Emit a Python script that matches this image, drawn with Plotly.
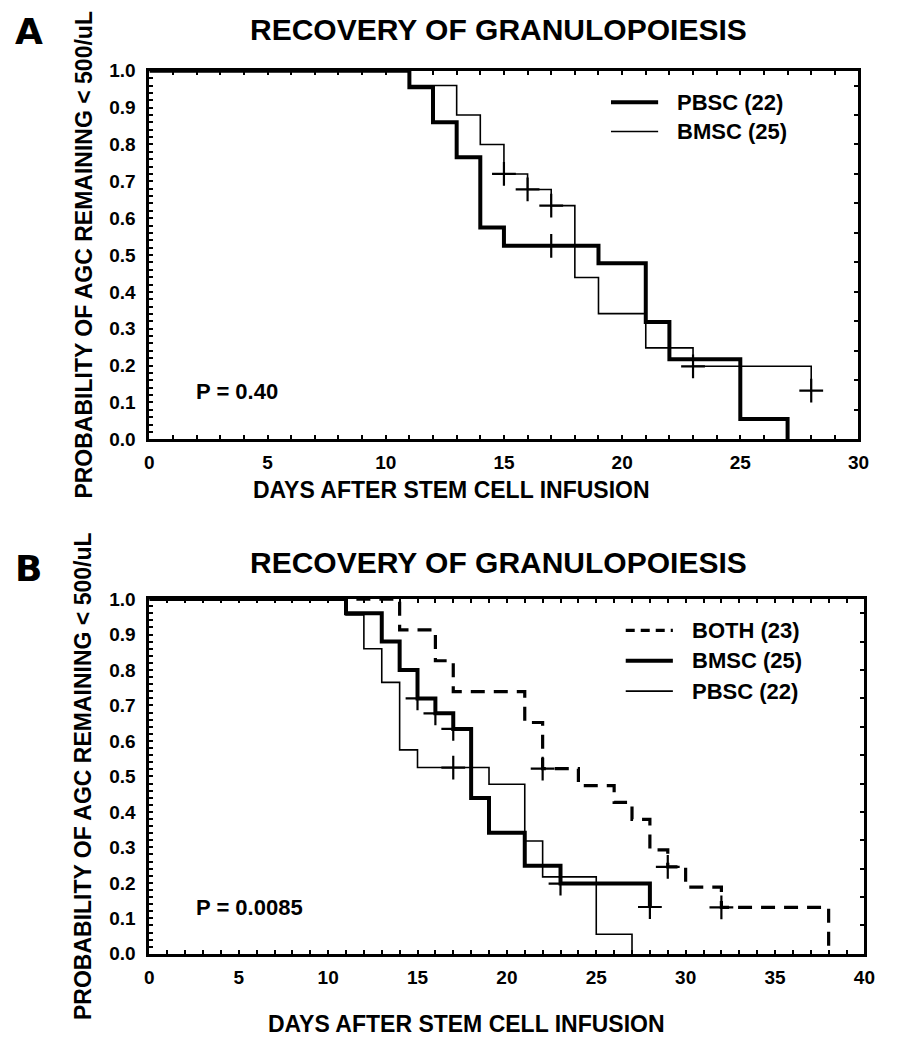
import plotly.graph_objects as go

W, H = 897, 1055

# ---- Panel A: PBSC vs BMSC ----
a_pbsc_days = [0, 11, 12, 13, 14, 15, 19, 21, 22, 25, 27]
a_pbsc_surv = [1.0, 0.955, 0.86, 0.765, 0.575, 0.525, 0.478, 0.318, 0.217, 0.055, 0.0]
a_pbsc_cens_days = [17]
a_pbsc_cens_surv = [0.525]

a_bmsc_days = [0, 11, 13, 14, 15, 16, 17, 18, 19, 21, 23, 28]
a_bmsc_surv = [1.0, 0.96, 0.88, 0.80, 0.72, 0.678, 0.634, 0.439, 0.341, 0.248, 0.198, 0.132]
a_bmsc_cens_days = [15, 16, 17, 23, 28]
a_bmsc_cens_surv = [0.72, 0.678, 0.634, 0.198, 0.132]

# ---- Panel B: BOTH vs BMSC vs PBSC ----
b_both_days = [0, 14, 16, 17, 21, 22, 24, 26, 27, 28, 29, 30, 32, 38]
b_both_surv = [1.0, 0.913, 0.826, 0.739, 0.652, 0.522, 0.474, 0.427, 0.379, 0.293, 0.245, 0.188, 0.131, 0.0]
b_both_cens_days = [22, 29, 32]
b_both_cens_surv = [0.522, 0.245, 0.131]

b_bmsc_days = a_bmsc_days
b_bmsc_surv = a_bmsc_surv
b_bmsc_cens_days = a_bmsc_cens_days
b_bmsc_cens_surv = a_bmsc_cens_surv

b_pbsc_days = a_pbsc_days
b_pbsc_surv = a_pbsc_surv
b_pbsc_cens_days = a_pbsc_cens_days
b_pbsc_cens_surv = a_pbsc_cens_surv

y_ticks = [0.0, 0.1, 0.2, 0.3, 0.4, 0.5, 0.6, 0.7, 0.8, 0.9, 1.0]
right_ticks = [0.08, 0.16, 0.24, 0.32, 0.40, 0.48, 0.56, 0.64, 0.72, 0.80, 0.88, 0.96]
a_x_ticks = [0, 5, 10, 15, 20, 25, 30]
b_x_ticks = [0, 5, 10, 15, 20, 25, 30, 35, 40]

FONT = "Liberation Sans"
THICK, THIN, DASHW = 4, 1.6, 3.2


def px(x):
    return x / W


def py(y):
    return 1 - y / H


fig = go.Figure()


def step(days, surv, xa, ya, width, dash="solid"):
    fig.add_trace(go.Scatter(
        x=days, y=surv, mode="lines", line_shape="hv",
        line=dict(color="black", width=width, dash=dash),
        xaxis=xa, yaxis=ya, showlegend=False, hoverinfo="skip",
    ))


def censor(days, surv, xa, ya):
    fig.add_trace(go.Scatter(
        x=days, y=surv, mode="markers",
        marker=dict(symbol="cross-thin", size=17, color="black",
                    line=dict(color="black", width=2.2)),
        xaxis=xa, yaxis=ya, showlegend=False, hoverinfo="skip",
    ))


# Panel A curves
step(a_pbsc_days, a_pbsc_surv, "x", "y", THICK)
step(a_bmsc_days, a_bmsc_surv, "x", "y", THIN)
censor(a_pbsc_cens_days, a_pbsc_cens_surv, "x", "y")
censor(a_bmsc_cens_days, a_bmsc_cens_surv, "x", "y")

# Panel B curves
step(b_both_days, b_both_surv, "x2", "y2", DASHW, dash="14px,9px")
step(b_bmsc_days, b_bmsc_surv, "x2", "y2", THICK)
step(b_pbsc_days, b_pbsc_surv, "x2", "y2", THIN)
censor(b_both_cens_days, b_both_cens_surv, "x2", "y2")
censor(b_bmsc_cens_days, b_bmsc_cens_surv, "x2", "y2")
censor(b_pbsc_cens_days, b_pbsc_cens_surv, "x2", "y2")

# empty traces so the right-hand frame axes are rendered
for xa, ya in (("x", "y3"), ("x2", "y4")):
    fig.add_trace(go.Scatter(x=[None], y=[None], mode="lines", xaxis=xa, yaxis=ya,
                             showlegend=False, hoverinfo="skip"))

tickfont = dict(family=FONT, size=19, color="black", weight="bold")


def xaxis_cfg(dom, ticks, rng, anchor):
    return dict(
        domain=dom, range=rng, anchor=anchor, tickvals=ticks,
        ticktext=[str(t) for t in ticks], tickfont=tickfont,
        ticklabelstandoff=4,
        showline=True, linewidth=3, linecolor="black", mirror="allticks",
        ticks="inside", ticklen=4, tickwidth=2, tickcolor="black",
        minor=dict(dtick=1, ticks="inside", ticklen=4, tickwidth=2, tickcolor="black"),
        showgrid=False, zeroline=False, fixedrange=True,
    )


def yaxis_cfg(dom, anchor):
    return dict(
        domain=dom, range=[0, 1], anchor=anchor, tickvals=y_ticks,
        ticktext=[f"{t:.1f}" for t in y_ticks], tickfont=tickfont,
        ticklabelstandoff=7,
        showline=True, linewidth=3, linecolor="black", mirror=False,
        ticks="inside", ticklen=4, tickwidth=2, tickcolor="black",
        minor=dict(dtick=0.02, ticks="inside", ticklen=4, tickwidth=2, tickcolor="black"),
        showgrid=False, zeroline=False, fixedrange=True,
    )


def right_cfg(overlay, anchor):
    return dict(
        overlaying=overlay, side="right", anchor=anchor, range=[0, 1],
        tickvals=right_ticks, showticklabels=False,
        showline=True, linewidth=3, linecolor="black",
        ticks="inside", ticklen=4, tickwidth=2, tickcolor="black",
        showgrid=False, zeroline=False, fixedrange=True,
    )


# plot areas in pixels
A_L, A_R, A_T, A_B = 147, 869, 62, 438
B_L, B_R, B_T, B_B = 147, 875, 601, 963

annotations = []


def text(x, y, s, size, xanchor="center", yanchor="middle", angle=0,
         xref="paper", yref="paper", family=FONT):
    annotations.append(dict(
        x=x, y=y, xref=xref, yref=yref, text=s, showarrow=False,
        xanchor=xanchor, yanchor=yanchor, textangle=angle,
        font=dict(family=family, size=size, color="black", weight="bold"),
    ))


# panel letters
text(px(8), py(22), "A", 36, xanchor="left", family="DejaVu Sans")
text(px(8), py(570), "B", 36, xanchor="left", family="DejaVu Sans")

# titles
text(px(502), py(20), "RECOVERY OF GRANULOPOIESIS", 30)
text(px(502), py(564), "RECOVERY OF GRANULOPOIESIS", 30)

# axis titles
text(px(80), py((A_T + A_B) / 2), "PROBABILITY OF AGC REMAINING < 500/uL", 23, angle=-90)
text(px(80), py((B_T + B_B) / 2), "PROBABILITY OF AGC REMAINING < 500/uL", 23, angle=-90)
text(px(455), py(490), "DAYS AFTER STEM CELL INFUSION", 23)
text(px(470), py(1035), "DAYS AFTER STEM CELL INFUSION", 23)

# p-values
text(1.9, 0.13, "P = 0.40", 22, xanchor="left", xref="x", yref="y")
text(2.5, 0.13, "P = 0.0085", 22, xanchor="left", xref="x2", yref="y2")

# legends (line samples + labels)
shapes = []


def legend_item(x0, x1, y, width, label, dash="solid"):
    shapes.append(dict(type="line", xref="paper", yref="paper",
                       x0=px(x0), x1=px(x1), y0=py(y), y1=py(y),
                       line=dict(color="black", width=width, dash=dash)))
    text(px(x1 + 17), py(y), label, 22, xanchor="left")


legend_item(617, 665, 94, THICK, "PBSC (22)")
legend_item(617, 665, 124, THIN, "BMSC (25)")
legend_item(632, 680, 633, DASHW, "BOTH (23)", dash="9px,6px")
legend_item(632, 680, 664, THICK, "BMSC (25)")
legend_item(632, 680, 695, THIN, "PBSC (22)")

fig.update_layout(
    width=W, height=H, margin=dict(l=0, r=0, t=0, b=0),
    paper_bgcolor="white", plot_bgcolor="white", showlegend=False,
    xaxis=xaxis_cfg([px(A_L), px(A_R)], a_x_ticks, [0, 30], "y"),
    yaxis=yaxis_cfg([py(A_B), py(A_T)], "x"),
    yaxis3=right_cfg("y", "x"),
    xaxis2=xaxis_cfg([px(B_L), px(B_R)], b_x_ticks, [0, 40], "y2"),
    yaxis2=yaxis_cfg([py(B_B), py(B_T)], "x2"),
    yaxis4=right_cfg("y2", "x2"),
    annotations=annotations, shapes=shapes,
)

fig.write_html("out.html")
